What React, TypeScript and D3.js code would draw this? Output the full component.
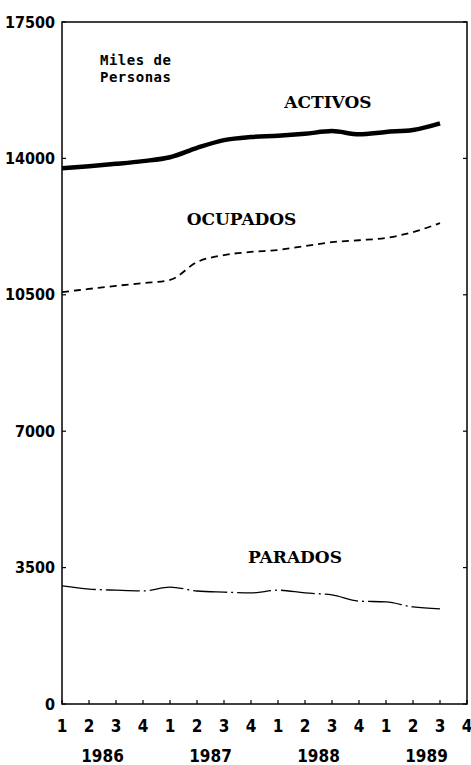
import React from 'react';
import * as d3 from 'd3';

// quarters 1986 Q1 .. 1989 Q3
const quarterLabels = ['1', '2', '3', '4', '1', '2', '3', '4', '1', '2', '3', '4', '1', '2', '3', '4'];
const years = ['1986', '1987', '1988', '1989'];
const yTicks = [0, 3500, 7000, 10500, 14000, 17500];

const activos = [13750, 13800, 13860, 13930, 14030, 14270, 14470, 14550, 14580, 14630, 14700, 14620, 14680, 14730, 14900];
const ocupados = [10570, 10650, 10730, 10800, 10880, 11340, 11520, 11600, 11650, 11750, 11850, 11900, 11960, 12110, 12340];
const parados = [3030, 2950, 2920, 2900, 3000, 2900, 2870, 2850, 2920, 2850, 2800, 2640, 2620, 2490, 2440];

const W = 471;
const H = 765;
const left = 62;
const right = 467;
const top = 22;
const bottom = 704;

const App = () => {
  const x = d3.scaleLinear().domain([0, 15]).range([left, right]);
  const y = d3.scaleLinear().domain([0, 17500]).range([bottom, top]);

  const line = d3
    .line<number>()
    .x((d, i) => x(i))
    .y(d => y(d))
    .curve(d3.curveMonotoneX);

  const numFont = "'Liberation Sans Narrow', 'DejaVu Sans Condensed', 'Liberation Sans', sans-serif";
  const serif = "'DejaVu Serif', serif";

  return (
    <svg width={W} height={H} style={{ position: 'absolute', left: 0, top: 0, background: '#fff' }}>
      {/* frame */}
      <rect x={left} y={top} width={right - left} height={bottom - top} fill="none" stroke="#000" strokeWidth={1.5} />

      {/* y ticks */}
      {yTicks.map(t => (
        <g key={'y' + t}>
          <line x1={left} x2={left + 4} y1={y(t)} y2={y(t)} stroke="#000" strokeWidth={1.2} />
          <line x1={right} x2={right - 4} y1={y(t)} y2={y(t)} stroke="#000" strokeWidth={1.2} />
          <text x={55} y={y(t)} dy="0.35em" textAnchor="end" fontFamily={numFont} fontSize={16} fontWeight="bold">
            {t}
          </text>
        </g>
      ))}

      {/* x ticks */}
      {quarterLabels.map((q, i) => (
        <g key={'x' + i}>
          <line x1={x(i)} x2={x(i)} y1={bottom} y2={bottom - 4} stroke="#000" strokeWidth={1.2} />
          <text x={x(i)} y={732} textAnchor="middle" fontFamily={numFont} fontSize={17} fontWeight="bold">
            {q}
          </text>
        </g>
      ))}
      {years.map((yr, i) => (
        <text key={yr} x={x(1.5 + 4 * i)} y={762} textAnchor="middle" fontFamily={numFont} fontSize={17} fontWeight="bold">
          {yr}
        </text>
      ))}

      {/* unit note */}
      <text x={100} y={65} fontFamily="'DejaVu Sans Mono', monospace" fontSize={14} letterSpacing={0.5} fontWeight="bold">
        Miles de
      </text>
      <text x={100} y={82} fontFamily="'DejaVu Sans Mono', monospace" fontSize={14} letterSpacing={0.5} fontWeight="bold">
        Personas
      </text>

      {/* series */}
      <path d={line(activos) || ''} fill="none" stroke="#000" strokeWidth={4.5} strokeLinejoin="round" />
      <path d={line(ocupados) || ''} fill="none" stroke="#000" strokeWidth={1.8} strokeDasharray="7 5" />
      <path d={line(parados) || ''} fill="none" stroke="#000" strokeWidth={1.3} strokeDasharray="34 4 2 4" />

      {/* series labels */}
      <text x={x(9.85)} y={y(15290)} textAnchor="middle" fontFamily={serif} fontSize={17} fontWeight="bold">
        ACTIVOS
      </text>
      <text x={x(6.65)} y={y(12290)} textAnchor="middle" fontFamily={serif} fontSize={17} fontWeight="bold">
        OCUPADOS
      </text>
      <text x={x(8.63)} y={y(3620)} textAnchor="middle" fontFamily={serif} fontSize={17} fontWeight="bold">
        PARADOS
      </text>
    </svg>
  );
};

export default App;
